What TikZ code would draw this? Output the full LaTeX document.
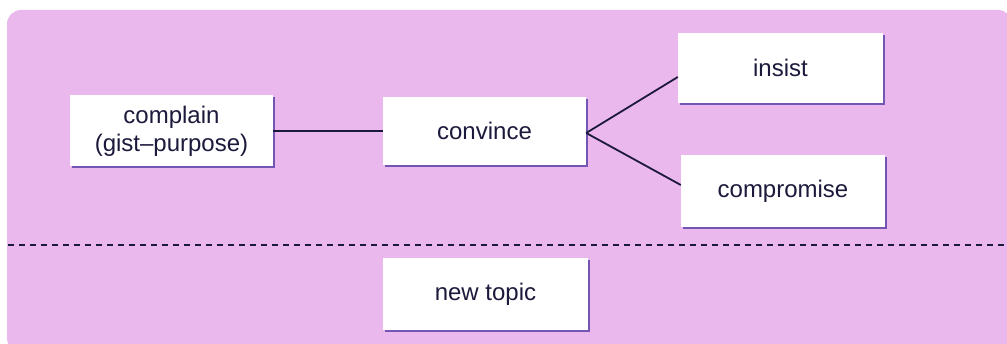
\documentclass[tikz,border=0pt]{standalone}
\usepackage{fontspec}
\setmainfont{Liberation Sans}
\usetikzlibrary{shadows,calc}
\definecolor{bgpink}{RGB}{234,184,236}
\definecolor{ink}{RGB}{28,26,60}
\definecolor{shade}{RGB}{95,70,170}
\begin{document}
\begin{tikzpicture}[x=1pt,y=-1pt,
  box/.style={fill=white, draw=none, minimum width=204pt, minimum height=70pt,
    inner sep=0pt, align=center, text=ink, font=\fontsize{24}{28}\selectfont,
    drop shadow={shadow xshift=1.5pt, shadow yshift=-1.8pt, fill=shade, opacity=0.85}},
  link/.style={draw=ink, line width=1.8pt}]
\useasboundingbox (0,0) rectangle (1007,344);
\fill[bgpink, rounded corners=14pt] (7,10) rectangle (1012,352);
\node[box, minimum width=203pt, minimum height=71pt] (complain) at (171.5,131) {complain\\(gist--purpose)};
\node[box, minimum width=203pt, minimum height=68pt] (convince) at (484.5,131) {convince};
\node[box, minimum width=205pt, minimum height=70pt] (insist) at (780.5,68) {insist};
\node[box, minimum width=204pt, minimum height=72pt] (compromise) at (783,191) {compromise};
\node[box, minimum width=205pt, minimum height=72pt] (newtopic) at (485.5,294) {new topic};
\coordinate (fork) at ($(convince.east)+(0,2)$);
\draw[link] (complain.east) -- (convince.west);
\draw[link] (fork) -- ($(insist.west)+(0,9)$);
\draw[link] (fork) -- ($(compromise.west)+(0,-6)$);
\coordinate (dl) at (8,245);
\coordinate (dr) at (1007,245);
\draw[ink, line width=1.6pt, dash pattern=on 6pt off 5pt] (dl) -- (dr);
\end{tikzpicture}
\end{document}
